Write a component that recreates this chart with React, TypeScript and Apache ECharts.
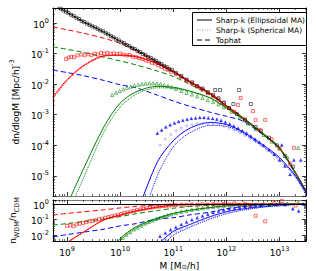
import React, { useEffect, useRef } from 'react';
import * as echarts from 'echarts';

const FONT = 'DejaVu Sans';

// axis ranges
const X_MIN = 5.4e8;
const X_MAX = 3.15e13;
const Y_MIN = 2.2e-6;
const Y_MAX = 3.1;
const R_MIN = 0.0043;
const R_MAX = 1.8;

// mass grid for model curves
const MASS_GRID = [5.4e8, 1e9, 2e9, 5e9, 1e10, 2e10, 5e10, 1e11, 2e11, 5e11, 1e12, 2e12, 5e12, 1e13, 2e13, 3.15e13];

// ---------- top panel: dn/dlogM model curves ----------
const CDM_LINE = [3.98, 2.24, 1.12, 0.5, 0.251, 0.132, 0.0537, 0.0269, 0.0126, 0.005, 0.002, 8.3e-4, 2.4e-4, 8.3e-5, 1.26e-5, 3.2e-6];
const RED_ELL = [0.0038, 0.0141, 0.0398, 0.0851, 0.0891, 0.0794, 0.0468, 0.0251, 0.0117, 0.00468, 0.00186, 7.9e-4, 2.3e-4, 7.9e-5, 1.26e-5, 3.2e-6];
const RED_SPH = [0.00331, 0.0126, 0.0372, 0.0813, 0.0871, 0.0776, 0.0457, 0.0245, 0.0115, 0.00457, 0.00182, 7.8e-4, 2.24e-4, 7.6e-5, 1.2e-5, 3.0e-6];
const RED_TH = [0.741, 0.603, 0.468, 0.316, 0.214, 0.12, 0.0513, 0.0263, 0.0123, 0.0049, 0.00195, 8.1e-4, 2.34e-4, 8.1e-5, 1.26e-5, 3.2e-6];
const GREEN_ELL = [null, 1.12e-6, 1.58e-5, 4.17e-4, 0.0024, 0.00562, 0.00851, 0.00794, 0.00603, 0.00355, 0.0017, 7.6e-4, 2.24e-4, 7.9e-5, 1.2e-5, 3.0e-6];
const GREEN_SPH = [null, 5.0e-7, 7.9e-6, 2.82e-4, 0.00178, 0.00468, 0.00759, 0.00741, 0.00575, 0.00339, 0.00162, 7.2e-4, 2.14e-4, 7.6e-5, 1.12e-5, 2.8e-6];
const GREEN_TH = [0.166, 0.138, 0.11, 0.0759, 0.0575, 0.0427, 0.0269, 0.0178, 0.01, 0.00437, 0.00186, 7.9e-4, 2.34e-4, 8.1e-5, 1.26e-5, 3.2e-6];
const BLUE_ELL = [null, null, null, null, null, 5.0e-7, 2.82e-5, 1.41e-4, 3.55e-4, 5.62e-4, 4.79e-4, 2.82e-4, 1.0e-4, 3.98e-5, 1.0e-5, 2.82e-6];
const BLUE_SPH = [null, null, null, null, null, 1.0e-7, 1.0e-5, 8.9e-5, 2.51e-4, 4.47e-4, 4.17e-4, 2.51e-4, 8.9e-5, 3.55e-5, 8.9e-6, 2.5e-6];
const BLUE_TH = [0.0288, 0.024, 0.0191, 0.0132, 0.00955, 0.00759, 0.00437, 0.00282, 0.00191, 0.0012, 8.9e-4, 6.3e-4, 2.14e-4, 7.9e-5, 1.26e-5, 3.2e-6];

// ---------- top panel: simulation points [M, dn/dlogM] ----------
const CDM_PTS = [
  [7.59e8, 2.95], [8.51e8, 2.57], [9.55e8, 2.34], [1.06e9, 2.14], [1.19e9, 1.86], [1.33e9, 1.7], [1.5e9, 1.48], [1.68e9, 1.35],
  [1.88e9, 1.17], [2.11e9, 1.07], [2.37e9, 0.955], [2.66e9, 0.87], [2.99e9, 0.776], [3.35e9, 0.724], [3.76e9, 0.646], [4.22e9, 0.575],
  [4.73e9, 0.537], [5.31e9, 0.468], [5.96e9, 0.427], [6.68e9, 0.372], [7.5e9, 0.339], [8.41e9, 0.295], [9.44e9, 0.269],
  [1.06e10, 0.234], [1.19e10, 0.219], [1.33e10, 0.191], [1.5e10, 0.174], [1.68e10, 0.151], [1.88e10, 0.141], [2.11e10, 0.123],
  [2.37e10, 0.112], [2.66e10, 0.0977], [2.99e10, 0.0891], [3.35e10, 0.0776], [3.76e10, 0.0724], [4.22e10, 0.0631], [4.73e10, 0.0575],
  [5.31e10, 0.0501], [5.96e10, 0.0457], [6.68e10, 0.0398], [7.5e10, 0.0363], [8.41e10, 0.0316], [9.44e10, 0.0288],
  [1.12e11, 0.0234], [1.41e11, 0.0186], [1.78e11, 0.0141], [2.24e11, 0.0115], [2.82e11, 0.0087], [3.55e11, 0.00724], [4.47e11, 0.0055],
  [5.62e11, 0.00447], [6.17e11, 0.00646], [7.08e11, 0.00347], [7.59e11, 0.00646], [8.91e11, 0.00251], [1.12e12, 0.00166],
  [1.35e12, 0.00224], [1.58e12, 0.00105], [1.74e12, 0.00646], [2.24e12, 6.6e-4], [2.88e12, 0.00224], [3.55e12, 3.98e-4],
  [4.47e12, 3.0e-4], [6.31e12, 1.78e-4], [8.91e12, 1.0e-4], [1.26e13, 4.5e-5], [1.78e13, 2.0e-5],
];
const RED_PTS = [
  [9.55e8, 0.066], [1.07e9, 0.074], [1.2e9, 0.079], [1.35e9, 0.076], [1.58e9, 0.087], [1.86e9, 0.093], [2.14e9, 0.087], [2.51e9, 0.095],
  [2.88e9, 0.089], [3.31e9, 0.1], [3.8e9, 0.093], [4.37e9, 0.105], [5.01e9, 0.1], [5.75e9, 0.107], [6.61e9, 0.098], [7.59e9, 0.102],
  [8.71e9, 0.095], [1e10, 0.1], [1.15e10, 0.093], [1.32e10, 0.087], [1.51e10, 0.089], [1.74e10, 0.079], [2.0e10, 0.076], [2.29e10, 0.071],
  [2.63e10, 0.066], [3.02e10, 0.06], [3.47e10, 0.056], [3.98e10, 0.05], [4.57e10, 0.047], [5.25e10, 0.041], [6.03e10, 0.037],
  [6.92e10, 0.032], [7.94e10, 0.0295], [9.12e10, 0.0251], [1.12e11, 0.0214], [1.41e11, 0.017], [1.78e11, 0.0132], [2.24e11, 0.0107],
  [2.82e11, 0.0083], [3.55e11, 0.0066], [4.47e11, 0.0051], [5.62e11, 0.004], [7.08e11, 0.00316], [8.91e11, 0.0024], [1.12e12, 0.00166],
  [1.41e12, 0.00126], [1.66e12, 0.0021], [1.86e12, 0.00355], [2.24e12, 7.1e-4], [3.16e12, 0.00132], [3.55e12, 6.8e-4], [4.17e12, 3.2e-4],
  [5.37e12, 6.8e-4], [7.08e12, 1.58e-4], [1e13, 7.9e-5], [1.58e13, 2.5e-5], [1.86e13, 8.3e-5],
];
const GREEN_PTS = [
  [7.08e9, 0.00447], [8.32e9, 0.00525], [9.77e9, 0.006], [1.15e10, 0.00676], [1.35e10, 0.0076], [1.58e10, 0.0083], [1.86e10, 0.0089],
  [2.19e10, 0.0095], [2.57e10, 0.01], [3.02e10, 0.0105], [3.55e10, 0.0107], [4.17e10, 0.0107], [4.9e10, 0.0105], [5.75e10, 0.01],
  [6.76e10, 0.0093], [7.94e10, 0.0087], [9.33e10, 0.0079], [1.12e11, 0.0071], [1.41e11, 0.006], [1.78e11, 0.0052], [2.24e11, 0.0046],
  [2.82e11, 0.004], [3.55e11, 0.00355], [4.47e11, 0.003], [5.62e11, 0.0026], [7.08e11, 0.0022], [8.91e11, 0.00178], [1.26e12, 0.00126],
  [1.78e12, 8.3e-4], [2.51e12, 5.2e-4], [3.55e12, 3.4e-4], [5.01e12, 2.2e-4], [7.08e12, 1.32e-4], [1e13, 7.9e-5], [1.41e13, 4.0e-5],
  [2.24e13, 8.3e-5],
];
const BLUE_PTS = [
  [5.01e10, 2.5e-4], [6.03e10, 3.16e-4], [7.24e10, 4.0e-4], [8.71e10, 4.7e-4], [1.05e11, 5.4e-4], [1.26e11, 6.0e-4], [1.51e11, 6.6e-4],
  [1.82e11, 7.1e-4], [2.19e11, 7.6e-4], [2.63e11, 7.9e-4], [3.16e11, 8.1e-4], [3.8e11, 8.1e-4], [4.57e11, 7.9e-4], [5.5e11, 7.6e-4],
  [6.61e11, 7.1e-4], [7.94e11, 6.5e-4], [9.55e11, 5.75e-4], [1.15e12, 5.0e-4], [1.38e12, 4.3e-4], [1.66e12, 3.6e-4], [2.0e12, 3.0e-4],
  [2.4e12, 2.5e-4], [2.88e12, 2.0e-4], [3.47e12, 1.58e-4], [4.17e12, 1.26e-4], [5.01e12, 1.0e-4], [6.31e12, 7.1e-5], [7.94e12, 5.0e-5],
  [1e13, 3.3e-5], [1.1e13, 1.02e-4], [1.26e13, 2.1e-5], [1.58e13, 1.12e-5], [1.86e13, 3.3e-5], [2.51e13, 3.3e-5],
];
const BLUE_SPH_PTS = [
  [5.62e10, 1.0e-4], [7.08e10, 1.58e-4], [8.91e10, 2.24e-4], [1.12e11, 3.0e-4], [1.41e11, 3.7e-4], [1.78e11, 4.3e-4], [2.24e11, 4.7e-4],
  [2.82e11, 5.0e-4], [3.55e11, 5.1e-4], [4.47e11, 5.1e-4], [5.62e11, 5.0e-4], [7.08e11, 4.7e-4], [8.91e11, 4.2e-4], [1.12e12, 3.6e-4],
  [1.41e12, 3.16e-4], [1.78e12, 2.6e-4], [2.24e12, 2.1e-4], [2.82e12, 1.7e-4], [3.55e12, 1.32e-4], [4.47e12, 1.0e-4], [5.62e12, 7.6e-5],
  [7.08e12, 5.6e-5], [8.91e12, 4.0e-5], [1.26e13, 2.4e-5],
];

// ---------- bottom panel: n_WDM / n_CDM ----------
const R_RED_ELL = [0.001, 0.00355, 0.0158, 0.1, 0.2, 0.363, 0.631, 0.832, 0.912, 0.955, 0.977, 1, 1, 1, 1, 1];
const R_RED_SPH = [0.0009, 0.0032, 0.0148, 0.095, 0.193, 0.355, 0.625, 0.828, 0.91, 0.95, 0.975, 1, 1, 1, 1, 1];
const R_RED_TH = [0.2, 0.251, 0.316, 0.427, 0.562, 0.708, 0.851, 0.933, 0.966, 0.989, 1, 1, 1, 1, 1, 1];
const R_GREEN_ELL = [null, null, null, 0.0003, 0.0063, 0.035, 0.126, 0.251, 0.398, 0.603, 0.759, 0.85, 0.93, 0.96, 0.98, 0.99];
const R_GREEN_SPH = [null, null, null, 0.0002, 0.0045, 0.028, 0.11, 0.23, 0.38, 0.59, 0.75, 0.84, 0.92, 0.955, 0.975, 0.99];
const R_GREEN_TH = [0.0447, 0.0562, 0.0759, 0.112, 0.158, 0.24, 0.38, 0.537, 0.692, 0.851, 0.933, 0.977, 1, 1, 1, 1];
const R_BLUE_ELL = [null, null, null, null, null, null, 0.0025, 0.0178, 0.0479, 0.158, 0.316, 0.479, 0.692, 0.832, 0.933, 0.955];
const R_BLUE_SPH = [null, null, null, null, null, null, 0.001, 0.01, 0.0316, 0.112, 0.24, 0.398, 0.631, 0.794, 0.912, 0.955];
const R_BLUE_TH = [0.0079, 0.0112, 0.0158, 0.0251, 0.0398, 0.0562, 0.112, 0.132, 0.2, 0.302, 0.501, 0.676, 0.871, 0.955, 1, 1];

const R_RED_PTS = [
  [1e9, 0.0398], [1.15e9, 0.0437], [1.32e9, 0.038], [1.51e9, 0.05], [1.74e9, 0.056], [2.0e9, 0.063], [2.29e9, 0.069], [2.63e9, 0.079],
  [3.02e9, 0.083], [3.47e9, 0.091], [3.98e9, 0.105], [4.57e9, 0.115], [5.25e9, 0.132], [6.03e9, 0.145], [6.92e9, 0.166], [7.94e9, 0.182],
  [9.12e9, 0.204], [1.05e10, 0.229], [1.2e10, 0.263], [1.38e10, 0.288], [1.58e10, 0.331], [1.82e10, 0.363], [2.09e10, 0.407],
  [2.4e10, 0.447], [2.75e10, 0.49], [3.16e10, 0.537], [3.63e10, 0.575], [4.17e10, 0.617], [4.79e10, 0.661], [5.5e10, 0.692],
  [6.31e10, 0.741], [7.24e10, 0.776], [8.32e10, 0.794], [9.55e10, 0.832], [1.12e11, 0.851], [1.41e11, 0.891], [1.78e11, 0.871],
  [2.24e11, 0.933], [2.82e11, 0.891], [3.55e11, 0.955], [4.47e11, 0.912], [5.62e11, 0.977], [7.08e11, 0.891], [8.91e11, 1.0],
  [1.12e12, 0.933], [1.41e12, 1.1], [1.78e12, 0.871], [2.24e12, 1.05], [2.82e12, 0.832], [3.55e12, 0.178], [5.37e12, 0.079],
  [7.94e12, 1.12], [1.1e13, 1.55], [2.0e13, 0.794],
];
const R_GREEN_PTS = [
  [1.12e10, 0.0071], [1.32e10, 0.0112], [1.55e10, 0.0158], [1.82e10, 0.024], [2.14e10, 0.0316], [2.51e10, 0.0417], [2.95e10, 0.0562],
  [3.47e10, 0.0708], [4.07e10, 0.0891], [4.79e10, 0.112], [5.62e10, 0.135], [6.61e10, 0.158], [7.76e10, 0.191], [9.12e10, 0.219],
  [1.12e11, 0.263], [1.41e11, 0.316], [1.78e11, 0.372], [2.24e11, 0.427], [2.82e11, 0.49], [3.55e11, 0.55], [4.47e11, 0.603],
  [5.62e11, 0.661], [7.08e11, 0.708], [8.91e11, 0.759], [1.26e12, 0.813], [1.78e12, 0.871], [2.51e12, 0.912], [3.55e12, 0.933],
  [5.01e12, 1.0], [7.08e12, 0.955], [1e13, 1.12], [1.41e13, 1.05], [2.24e13, 1.2],
];
const R_BLUE_PTS = [
  [5.62e10, 0.0089], [7.08e10, 0.0141], [8.91e10, 0.0224], [1.12e11, 0.0331], [1.41e11, 0.05], [1.78e11, 0.0708], [2.24e11, 0.1],
  [2.82e11, 0.132], [3.55e11, 0.174], [4.47e11, 0.224], [5.62e11, 0.282], [7.08e11, 0.355], [8.91e11, 0.417], [1.12e12, 0.501],
  [1.41e12, 0.562], [1.78e12, 0.631], [2.24e12, 0.692], [2.82e12, 0.741], [3.55e12, 0.794], [4.47e12, 0.832], [6.31e12, 0.871],
  [8.91e12, 0.891], [1.26e13, 0.912], [1.78e13, 0.501], [2.29e13, 0.363], [2.82e13, 1.0],
];
const R_BLUE_SPH_PTS = [
  [7.08e10, 0.0056], [8.91e10, 0.01], [1.12e11, 0.0158], [1.41e11, 0.024], [1.78e11, 0.0355], [2.24e11, 0.05], [2.82e11, 0.0708],
  [3.55e11, 0.0955], [4.47e11, 0.126], [5.62e11, 0.166], [7.08e11, 0.209], [8.91e11, 0.263], [1.12e12, 0.316], [1.41e12, 0.38],
  [1.78e12, 0.447], [2.24e12, 0.513], [2.82e12, 0.575], [3.55e12, 0.631], [5.01e12, 0.708], [7.08e12, 0.776], [1e13, 0.832],
];

const LEGEND_NAMES = ['Sharp-k (Ellipsoidal MA)', 'Sharp-k (Spherical MA)', 'Tophat'];

const RED = '#ff0000';
const GREEN = '#008000';
const BLUE = '#0000ff';
const LIGHT_BLUE = '#8080ff';

const rich = {
  b: { fontSize: 9, fontFamily: FONT, color: '#000', padding: [3, 0, 0, 0], lineHeight: 12 },
  s: { fontSize: 6.5, fontFamily: FONT, color: '#000', verticalAlign: 'top', lineHeight: 8 },
  u: { fontSize: 6.5, fontFamily: FONT, color: '#000', verticalAlign: 'bottom', lineHeight: 8 },
  t: { fontSize: 9, fontFamily: FONT, color: '#000', padding: [3, 0, 0, 0], lineHeight: 12 },
  d: { fontSize: 9, fontFamily: FONT, color: '#000', padding: [0, 0, 3, 0], lineHeight: 12 },
};

function powLabel(v: number) {
  const e = Math.log10(v);
  const r = Math.round(e);
  if (Math.abs(e - r) > 1e-6) return '';
  return `{b|10}{s|${r}}`;
}

function axisCfg(gridIndex: number, position: string, showLabels: boolean, min: number, max: number, lineColor = '#000') {
  return {
    type: 'log',
    logBase: 10,
    gridIndex,
    position,
    min,
    max,
    axisLine: { show: true, onZero: false, lineStyle: { color: lineColor, width: 1 } },
    axisTick: { show: true, inside: true, length: 4, lineStyle: { color: '#000', width: 0.8 } },
    minorTick: { show: true, splitNumber: 9, length: 2, lineStyle: { color: '#000', width: 0.6 } },
    axisLabel: { show: showLabels, formatter: powLabel, rich, margin: 4, showMinLabel: false, showMaxLabel: false },
    splitLine: { show: false },
    minorSplitLine: { show: false },
  };
}

function curve(vals: (number | null)[], color: string, type: any, xi: number, yi: number) {
  const data = MASS_GRID.map((m, i) => [m, vals[i]]).filter((p) => p[1] != null);
  return {
    type: 'line',
    data,
    xAxisIndex: xi,
    yAxisIndex: yi,
    symbol: 'none',
    smooth: 0.3,
    clip: true,
    silent: true,
    lineStyle: { color, width: 1, type },
    z: 2,
  };
}

function points(data: number[][], symbol: string, size: number, color: string, filled: boolean, xi: number, yi: number) {
  return {
    type: 'scatter',
    data,
    xAxisIndex: xi,
    yAxisIndex: yi,
    symbol,
    symbolSize: size,
    clip: true,
    silent: true,
    itemStyle: filled
      ? { color, borderColor: color, borderWidth: 0.3 }
      : { color: 'rgba(0,0,0,0)', borderColor: color, borderWidth: 0.7 },
    z: 3,
  };
}

const DASH = [5, 3];

// legend drawn with graphic elements
const LEG_X = 192;
const LEG_Y = 12;
const LEG_ROWS = [
  { name: LEGEND_NAMES[0], color: '#000', dash: null as any },
  { name: LEGEND_NAMES[1], color: '#9a9aaa', dash: [1, 1.5] },
  { name: LEGEND_NAMES[2], color: '#000', dash: DASH },
];

export default function App() {
  const ref = useRef<HTMLDivElement>(null);
  useEffect(() => {
    if (!ref.current) return;
    const chart = echarts.init(ref.current, undefined, { renderer: 'svg' });
    const legendEls: any[] = [
      {
        type: 'rect',
        shape: { x: LEG_X + 0.5, y: LEG_Y + 0.5, width: 114, height: 33 },
        style: { fill: '#fff', stroke: '#000', lineWidth: 1 },
        z: 100,
      },
    ];
    LEG_ROWS.forEach((r, i) => {
      const y = LEG_Y + 8 + i * 10;
      legendEls.push({
        type: 'line',
        shape: { x1: LEG_X + 5, y1: y, x2: LEG_X + 20, y2: y },
        style: { stroke: r.color, lineWidth: 1, lineDash: r.dash || undefined },
        z: 101,
      });
      legendEls.push({
        type: 'text',
        x: LEG_X + 24,
        y,
        style: { text: r.name, fill: '#000', font: `7.5px "${FONT}"`, verticalAlign: 'middle', align: 'left' },
        z: 101,
      });
    });

    const option: any = {
      animation: false,
      backgroundColor: '#fff',
      textStyle: { fontFamily: FONT },
      grid: [
        { left: 38, top: 8, width: 268, height: 188 },
        { left: 38, top: 200, width: 268, height: 42 },
      ],
      xAxis: [
        axisCfg(0, 'bottom', false, X_MIN, X_MAX, '#777'),
        axisCfg(0, 'top', false, X_MIN, X_MAX),
        {
          ...axisCfg(1, 'bottom', true, X_MIN, X_MAX),
          name: '{t|M [M}{u|⊙}{t|/h]}',
          nameLocation: 'middle',
          nameGap: 14,
          nameTextStyle: { rich },
        },
        axisCfg(1, 'top', false, X_MIN, X_MAX, '#777'),
      ],
      yAxis: [
        {
          ...axisCfg(0, 'left', true, Y_MIN, Y_MAX),
          name: '{t|dn/dlogM [Mpc/h]}{s|-3}',
          nameLocation: 'middle',
          nameRotate: 90,
          nameGap: 24,
          nameTextStyle: { rich },
        },
        axisCfg(0, 'right', false, Y_MIN, Y_MAX),
        {
          ...axisCfg(1, 'left', true, R_MIN, R_MAX),
          name: '{d|n}{u|WDM}{d|/n}{u|CDM}',
          nameLocation: 'middle',
          nameRotate: 90,
          nameGap: 24,
          nameTextStyle: { rich },
        },
        axisCfg(1, 'right', false, R_MIN, R_MAX),
      ],
      graphic: legendEls,
      series: [
        // top panel curves
        curve(CDM_LINE, '#000', 'solid', 0, 0),
        curve(RED_TH, RED, DASH, 0, 0),
        curve(GREEN_TH, GREEN, DASH, 0, 0),
        curve(BLUE_TH, BLUE, DASH, 0, 0),
        curve(RED_SPH, RED, 'dotted', 0, 0),
        curve(GREEN_SPH, GREEN, 'dotted', 0, 0),
        curve(BLUE_SPH, BLUE, 'dotted', 0, 0),
        curve(RED_ELL, RED, 'solid', 0, 0),
        curve(GREEN_ELL, GREEN, 'solid', 0, 0),
        curve(BLUE_ELL, BLUE, 'solid', 0, 0),

        // top panel points
        points(BLUE_SPH_PTS, 'circle', 2, LIGHT_BLUE, false, 0, 0),
        points(BLUE_PTS, 'triangle', 3, BLUE, true, 0, 0),
        points(GREEN_PTS, 'triangle', 3.2, GREEN, false, 0, 0),
        points(RED_PTS, 'rect', 3, RED, false, 0, 0),
        points(CDM_PTS, 'rect', 3, '#000', false, 0, 0),

        // bottom panel curves
        {
          ...curve(R_RED_TH, RED, DASH, 2, 2),
          markLine: {
            silent: true,
            symbol: ['none', 'none'],
            label: { show: false },
            lineStyle: { color: '#000', width: 1, type: 'solid' },
            data: [{ yAxis: 1 }],
          },
        },
        curve(R_GREEN_TH, GREEN, DASH, 2, 2),
        curve(R_BLUE_TH, BLUE, DASH, 2, 2),
        curve(R_RED_SPH, RED, 'dotted', 2, 2),
        curve(R_GREEN_SPH, GREEN, 'dotted', 2, 2),
        curve(R_BLUE_SPH, BLUE, 'dotted', 2, 2),
        curve(R_RED_ELL, RED, 'solid', 2, 2),
        curve(R_GREEN_ELL, GREEN, 'solid', 2, 2),
        curve(R_BLUE_ELL, BLUE, 'solid', 2, 2),

        // bottom panel points
        points(R_BLUE_SPH_PTS, 'circle', 2, LIGHT_BLUE, false, 2, 2),
        points(R_BLUE_PTS, 'triangle', 3, BLUE, true, 2, 2),
        points(R_GREEN_PTS, 'triangle', 3.2, GREEN, false, 2, 2),
        points(R_RED_PTS, 'rect', 3, RED, false, 2, 2),
      ],
    };
    chart.setOption(option);
    return () => chart.dispose();
  }, []);
  return <div ref={ref} style={{ position: 'fixed', left: 0, top: 0, width: 316, height: 271, background: '#fff' }} />;
}
